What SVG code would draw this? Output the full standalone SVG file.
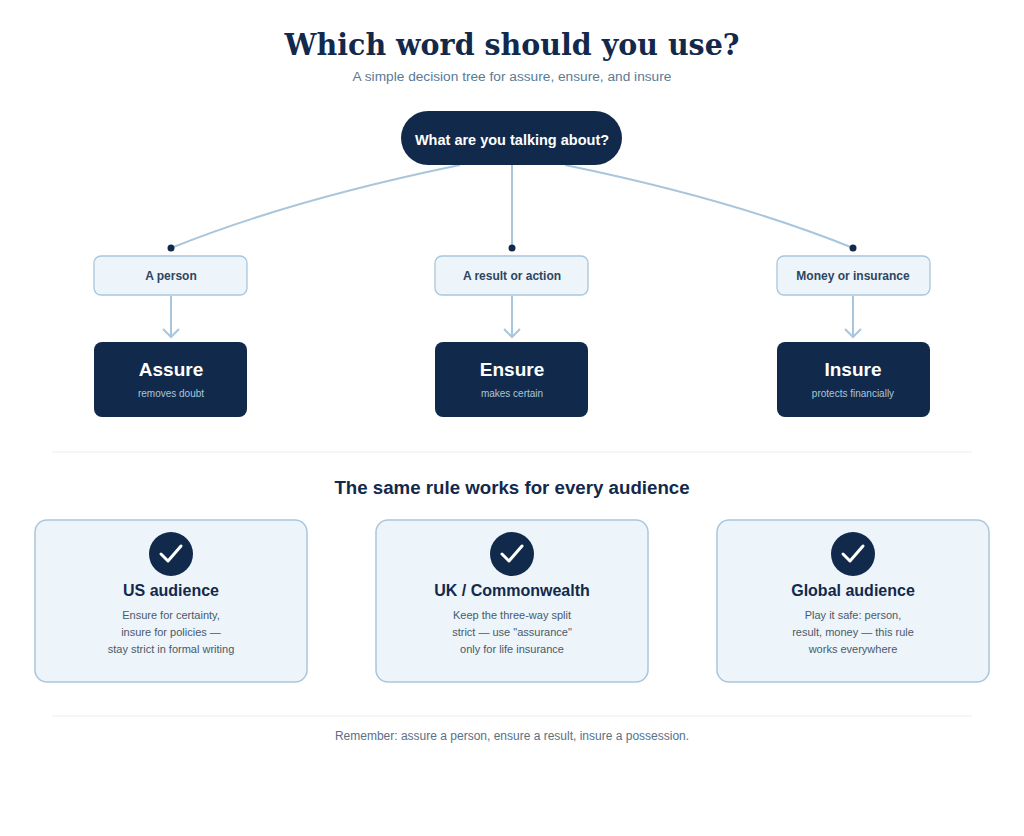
<svg xmlns="http://www.w3.org/2000/svg" width="1024" height="836" viewBox="0 0 1024 836">
<style>
text{font-family:"Liberation Sans",Arial,sans-serif;text-anchor:middle}
.title{font-family:"DejaVu Serif","Liberation Serif",serif;font-weight:bold;font-size:29px;fill:#13294b}
.sub{font-size:13.7px;fill:#5a7a96}
.lbl{fill:#edf4fa;stroke:#a9c6dc;stroke-width:1.3}
.lblt{font-size:12px;font-weight:bold;fill:#2e4560}
.dark{fill:#112a4b}
.dt{font-size:19px;font-weight:bold;fill:#fff}
.ds{font-size:10px;fill:#a9c6dc}
.card{fill:#edf4fa;stroke:#a9c6dc;stroke-width:1.5}
.ct{font-size:16px;font-weight:bold;fill:#13294b}
.cb{font-size:11px;fill:#4a5a6a}
.con{fill:none;stroke:#a9c6dc;stroke-width:2}
.div{stroke:#e6edf3;stroke-width:1}
</style>
<rect width="1024" height="836" fill="#fff"/>
<text x="512" y="55" class="title" textLength="455" lengthAdjust="spacingAndGlyphs">Which word should you use?</text>
<text x="512" y="81" class="sub">A simple decision tree for assure, ensure, and insure</text>
<g id="connectors">
<path class="con" d="M460 165 Q290 200 171 248"/>
<path class="con" d="M512 165 L512 248"/>
<path class="con" d="M565 165 Q735 200 853 248"/>
<circle cx="171" cy="248" r="3.5" fill="#112a4b"/>
<circle cx="512" cy="248" r="3.5" fill="#112a4b"/>
<circle cx="853" cy="248" r="3.5" fill="#112a4b"/>
<g class="con" stroke-width="1.6">
<path d="M171 296 V337 M163 329 L171 337 L179 329"/>
<path d="M512 296 V337 M504 329 L512 337 L520 329"/>
<path d="M853 296 V337 M845 329 L853 337 L861 329"/>
</g>
</g>
<g id="root"><rect x="401" y="111" width="221" height="54" rx="27" class="dark"/><text x="512" y="145" font-size="14.5" font-weight="bold" fill="#fff">What are you talking about?</text></g>
<g id="q1"><rect x="94" y="256" width="153" height="39" rx="7" class="lbl"/><text x="171" y="280" class="lblt">A person</text></g>
<g id="q2"><rect x="435" y="256" width="153" height="39" rx="7" class="lbl"/><text x="512" y="280" class="lblt">A result or action</text></g>
<g id="q3"><rect x="777" y="256" width="153" height="39" rx="7" class="lbl"/><text x="853" y="280" class="lblt">Money or insurance</text></g>
<g id="assure"><rect x="94" y="342" width="153" height="75" rx="8" class="dark"/><text x="171" y="376" class="dt">Assure</text><text x="171" y="397" class="ds">removes doubt</text></g>
<g id="ensure"><rect x="435" y="342" width="153" height="75" rx="8" class="dark"/><text x="512" y="376" class="dt">Ensure</text><text x="512" y="397" class="ds">makes certain</text></g>
<g id="insure"><rect x="777" y="342" width="153" height="75" rx="8" class="dark"/><text x="853" y="376" class="dt">Insure</text><text x="853" y="397" class="ds">protects financially</text></g>
<line x1="52" y1="452" x2="972" y2="452" class="div"/>
<text x="512" y="494" font-size="18.7" font-weight="bold" fill="#13294b">The same rule works for every audience</text>
<g id="us"><rect x="35" y="520" width="272" height="162" rx="12" class="card"/><circle cx="171" cy="554" r="22" class="dark"/><path d="M161 554 L168 561 L181 546" fill="none" stroke="#fff" stroke-width="3" stroke-linecap="round" stroke-linejoin="round"/><text x="171" y="596" class="ct">US audience</text><text x="171" y="619" class="cb">Ensure for certainty,</text><text x="171" y="636" class="cb">insure for policies —</text><text x="171" y="653" class="cb">stay strict in formal writing</text></g>
<g id="uk"><rect x="376" y="520" width="272" height="162" rx="12" class="card"/><circle cx="512" cy="554" r="22" class="dark"/><path d="M502 554 L509 561 L522 546" fill="none" stroke="#fff" stroke-width="3" stroke-linecap="round" stroke-linejoin="round"/><text x="512" y="596" class="ct">UK / Commonwealth</text><text x="512" y="619" class="cb">Keep the three-way split</text><text x="512" y="636" class="cb">strict — use "assurance"</text><text x="512" y="653" class="cb">only for life insurance</text></g>
<g id="global"><rect x="717" y="520" width="272" height="162" rx="12" class="card"/><circle cx="853" cy="554" r="22" class="dark"/><path d="M843 554 L850 561 L863 546" fill="none" stroke="#fff" stroke-width="3" stroke-linecap="round" stroke-linejoin="round"/><text x="853" y="596" class="ct">Global audience</text><text x="853" y="619" class="cb">Play it safe: person,</text><text x="853" y="636" class="cb">result, money — this rule</text><text x="853" y="653" class="cb">works everywhere</text></g>
<line x1="52" y1="716" x2="972" y2="716" class="div"/>
<text x="512" y="740" font-size="12" fill="#5a7086">Remember: assure a person, ensure a result, insure a possession.</text>
</svg>
